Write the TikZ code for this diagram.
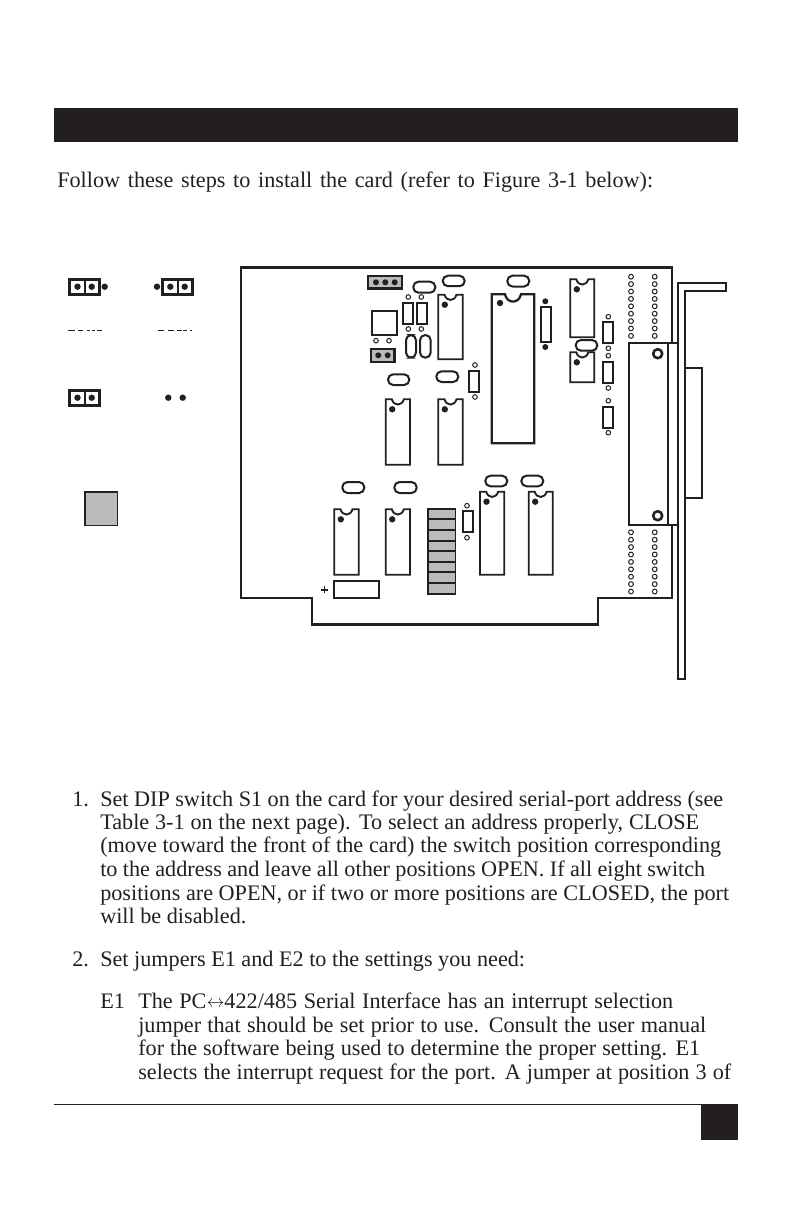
\documentclass[tikz,border=0pt]{standalone}
\usepackage{fontspec}
\setmainfont{Liberation Serif}
\usetikzlibrary{positioning}
\definecolor{ink}{HTML}{231F20}
\definecolor{padgray}{HTML}{BBBBBB}

\tikzset{
  board/.style={draw=ink, line width=1.7pt, line join=miter},
  part/.style={draw=ink, line width=1.5pt},
  chipbody/.style={draw=ink, line width=1.4pt},
  hole/.style={draw=ink, line width=0.75pt, fill=white},
  bodyline/.style={anchor=base west, inner sep=0pt, text=ink, font=\fontsize{16.65}{18}\selectfont},
}

% one chip: left, top, right, bottom; the notch and the pin dot come from these
\newcommand{\dipchip}[4]{%
  \draw[chipbody] (#1,#2) -- ({(#1+#3)/2-6},#2)
    .. controls ({(#1+#3)/2-4},{#2+7}) and ({(#1+#3)/2+4},{#2+7}) .. ({(#1+#3)/2+6},#2)
    -- (#3,#2) -- (#3,#4) -- (#1,#4) -- cycle;
  \draw[fill=ink, draw=none] ({#1+6.5},{#2+10}) circle [radius=3.2];
}
\newcommand{\capoval}[4]{\draw[part, rounded corners=3.9pt] (#1,#2) rectangle (#3,#4);}
\newcommand{\resbox}[2]{\draw[part] (#1,#2) rectangle ({#1+10},{#2+21});}
\newcommand{\fitline}[2]{\makebox[0.75\dimexpr#1pt\relax][s]{#2}} % width in picture units

\begin{document}
\begin{tikzpicture}[x=0.75pt,y=-0.75pt]
\useasboundingbox (0,0) rectangle (793,1225);

\fill[ink] (54,108) rectangle (738,142); % title bar
\node[bodyline] (intro) at (57,187) {\fitline{596}{Follow these steps to install the card (refer to Figure 3-1 below):}};

% jumpers on the left
\draw[board] (69.5,279.5) rectangle (99.5,294.5);
\draw[board] (85,279.5) -- (85,294.5);
\draw[board] (162.5,279.5) rectangle (192.5,294.5);
\draw[board] (178,279.5) -- (178,294.5);
\draw[board] (69.5,390.5) rectangle (99.5,405.5);
\draw[board] (85,390.5) -- (85,405.5);
\foreach \px in {77.5,91.7,104.7,157,170.3,184.7} \draw[fill=ink, draw=none] (\px,286.7) circle [radius=3.2];
\foreach \px in {77.5,91.7,168.3,182.7} \draw[fill=ink, draw=none] (\px,397.7) circle [radius=3.2];
\foreach \xa/\xb in {68/75,78/83,87/90,92/95,97/102,158/164,168/174,177/182,183/187,190/192}
  \draw[ink, line width=0.6pt] (\xa,330) -- (\xb,330); % cut-off captions
\draw[part, fill=padgray, line width=1.4pt] (85,492) rectangle (117.5,525.5);

% the card
\draw[board] (672,343) -- (672,267.5) -- (241,267.5) -- (241,598) -- (312,598) -- (312,624.5)
  -- (598,624.5) -- (598,598) -- (672,598) -- (672,525);
\draw[board] (678,679) -- (678,283) -- (726,283) -- (726,291) -- (685,291) -- (685,679) -- cycle; % bracket
\draw[board] (685,368) -- (702,368) -- (702,498) -- (685,498);
\draw[board] (629,343) rectangle (678,525);
\draw[part, line width=1.2pt] (668,343) -- (668,525);
\foreach \py in {353.7,515.7} \draw[draw=ink, line width=1.9pt] (657.7,\py) circle [radius=4.5];

% rows of solder holes
\foreach \px in {631,654.7} \foreach \n in {0,...,8} {
  \draw[hole] (\px,{276.7+\n*7.4}) circle [radius=2.4];
  \draw[hole] (\px,{532.3+\n*7.4}) circle [radius=2.4];
}

% headers
\draw[board, fill=padgray] (368,275.8) rectangle (402,288.6);
\foreach \px in {376,385.3,394.7} \draw[fill=ink, draw=none] (\px,282.3) circle [radius=3];
\draw[board, fill=padgray] (371,349) rectangle (394.6,362);
\foreach \px in {378.3,387.7} \draw[fill=ink, draw=none] (\px,355.3) circle [radius=3];
\draw[board] (372.2,311.2) rectangle (396.8,334.8);

% chips
\dipchip{438.3}{294.7}{462.7}{359.3}
\dipchip{385.7}{399.3}{410}{464.7}
\dipchip{438.3}{399.3}{462.7}{464.7}
\dipchip{570.3}{279.3}{594.3}{337.3}
\dipchip{570.3}{352.3}{594.3}{382.3}
\dipchip{334.3}{509.3}{358.7}{574.7}
\dipchip{385.7}{509.3}{410}{574.7}
\dipchip{480}{491.7}{504.3}{574.7}
\dipchip{528.7}{491.7}{552.7}{574.7}
\draw[board] (491.7,294.3) -- (505,294.3)
  .. controls (507,304) and (519,304) .. (521,294.3) -- (534.3,294.3) -- (534.3,443.3) -- (491.7,443.3) -- cycle;
\draw[fill=ink, draw=none] (500,303) circle [radius=3.2];

% ovals
\capoval{413.3}{281.7}{435.3}{292.7}
\capoval{442.7}{275.7}{464.7}{286.2}
\capoval{507.3}{275.7}{529.3}{286.5}
\capoval{388}{374.3}{409.3}{385}
\capoval{436.3}{371.3}{458.3}{382}
\capoval{575.7}{340}{597.3}{350.7}
\capoval{342.3}{482}{364.3}{493}
\capoval{394.3}{482}{416.7}{493}
\capoval{485.3}{475.7}{507.3}{486.3}
\capoval{521.3}{475.7}{543.3}{486.3}
\capoval{406}{335}{416}{357.7}
\capoval{420}{335}{430.7}{357.7}

% small resistors and their holes
\resbox{403.3}{303.3}
\resbox{416.7}{303.3}
\resbox{469.3}{370.5}
\resbox{462.7}{511.3}
\resbox{603.3}{322.3}
\resbox{603.3}{362}
\resbox{603.3}{406.5}
\draw[part] (540.7,307.3) rectangle (550.7,342.3);
\foreach \px/\py in {545.3/301.3,545.3/347} \draw[fill=ink, draw=none] (\px,\py) circle [radius=3];
\foreach \px/\py in {408.3/297,421.3/297,408.3/329,421.3/329,376/340.7,389/340.7,475/365,475/397,
  608.3/316.7,608.3/348.3,608.3/355.7,608.3/388,608.3/400.7,608.3/432.7,467/505.7,467/537.7}
  \draw[hole] (\px,\py) circle [radius=2.3];

% dip switch
\draw[draw=ink, fill=padgray, line width=1.2pt] (428.2,509.2) rectangle (455.6,594.2);
\foreach \py in {519.3,530,540.7,551.3,561.7,572.3,582.7} \draw[part] (428.2,\py) -- (455.6,\py);

% battery
\draw[board] (334,581) rectangle (379,598);
\draw[ink, line width=1.3pt] (321,589.7) -- (328,589.7) (324.5,586) -- (324.5,593.4);

% the text below
\node[bodyline] (num1) at (72,806) {1.};
\node[bodyline] (l1a) at (100,806) {\fitline{623}{Set DIP switch S1 on the card for your desired serial-port address (see}};
\node[bodyline] (l1b) at (100,829.4) {\fitline{599}{Table 3-1 on the next page). To select an address properly, CLOSE}};
\node[bodyline] (l1c) at (100,852.8) {\fitline{621}{(move toward the front of the card) the switch position corresponding}};
\node[bodyline] (l1d) at (100,876.4) {\fitline{605}{to the address and leave all other positions OPEN. If all eight switch}};
\node[bodyline] (l1e) at (100,900) {\fitline{629}{positions are OPEN, or if two or more positions are CLOSED, the port}};
\node[bodyline] (l1f) at (100,923) {will be disabled.};
\node[bodyline] (num2) at (72,966) {2.};
\node[bodyline] (l2a) at (100,966) {Set jumpers E1 and E2 to the settings you need:};
\node[bodyline] (e1) at (100,1008.8) {E1};
\node[bodyline] (l3a) at (138,1008.8) {\fitline{535}{The PC\raisebox{1pt}{\scalebox{0.78}{$\leftrightarrow$}}422/485 Serial Interface has an interrupt selection}};
\node[bodyline] (l3b) at (138,1032) {\fitline{568}{jumper that should be set prior to use. Consult the user manual}};
\node[bodyline] (l3c) at (138,1055.6) {\fitline{562}{for the software being used to determine the proper setting. E1}};
\node[bodyline] (l3d) at (138,1079.2) {\fitline{593}{selects the interrupt request for the port. A jumper at position 3 of}};

\draw[ink, line width=0.6pt] (54,1104) -- (738,1104); % foot rule
\fill[ink] (701,1104) rectangle (738,1140);

\end{tikzpicture}
\end{document}
